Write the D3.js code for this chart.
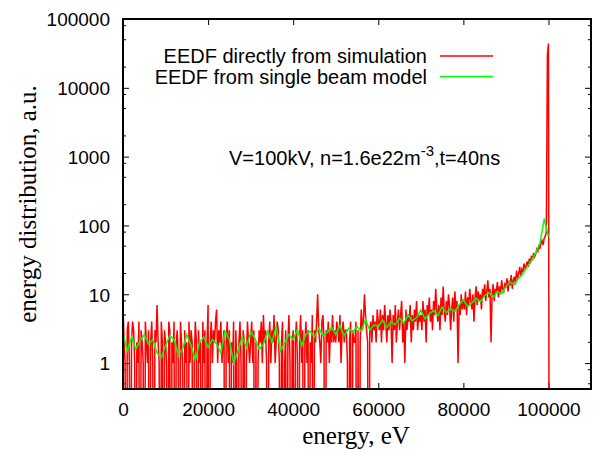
<!DOCTYPE html>
<html>
<head>
<meta charset="utf-8">
<script src="https://cdn.jsdelivr.net/npm/d3@7"></script>
<style>
  html, body { margin: 0; padding: 0; background: #fff; }
  svg { display: block; font-family: "Liberation Sans", Arial, sans-serif; }
</style>
</head>
<body>
<div id="chart"></div>
<script>
// simulation histogram, one value per 250 eV bin starting at 0 eV (0 = empty bin)
const SIM_STEP = 250;
const simCounts = [
  // 0 - 9750
  7,2,1,0,3,4,1,0,2,4,3,1,0,2,1,4,0,3,2,1,0,4,2,1,3,0,2,4,1,0,3,2,7,2,1,0,4,2,0,3,
  // 10000 - 19750
  2,1,0,4,3,0,2,1,4,0,2,3,1,0,4,2,1,0,3,1,2,0,4,1,3,2,0,1,4,2,0,3,1,2,0,4,1,3,0,2,
  // 20000 - 29750
  7,0,2,4,1,3,2,4,6,1,3,2,4,1,2,3,0,2,4,1,3,0,2,1,4,0,3,1,0,2,4,1,0,3,2,0,1,4,2,1,
  // 30000 - 39750
  2,4,1,3,0,2,0,1,3,2,4,1,5,2,3,1,0,2,4,1,3,2,5,1,2,4,3,1,0,2,4,0,1,3,0,2,5,1,0,2,
  // 40000 - 49750
  3,0,2,4,1,0,2,5,1,3,0,2,4,1,3,0,2,1,5,0,3,2,4,10,3,2,1,4,5,2,0,3,2,4,1,3,2,5,2,3,
  // 50000 - 59750
  2,4,3,2,5,1,3,4,2,3,3,1,0,2,4,0,3,2,2,4,0,3,0,2,6,3,4,10,5,3,2,0,3,4,2,5,3,4,2,6,
  // 60000 - 69750
  4,3,6,2,5,3,7,4,2,5,3,6,4,1,5,3,7,2,4,6,3,5,8,2,4,1,6,3,5,4,7,2,5,3,6,4,8,3,5,4,
  // 70000 - 79750
  5,3,8,4,6,2,7,5,9,4,6,3,8,5,12,6,4,7,3,9,5,13,6,4,8,5,10,7,3,6,9,4,11,6,8,1,7,5,10,6,
  // 80000 - 89750
  8,6,11,5,9,7,12,8,6,10,4,9,13,7,11,8,10,6,12,9,14,8,11,16,9,12,2,10,14,8,12,11,15,9,13,10,16,12,11,14,
  // 90000 - 99750
  13,17,11,15,14,19,12,16,18,14,22,17,20,25,18,23,21,28,24,26,30,25,33,28,36,31,40,35,38,45,42,50,47,55,60,52,65,70,80,30000,
  // 100000 - 100250
  44000,0
];

// single beam model, one value per 1000 eV
const MODEL_STEP = 1000;
const modelValues = [
  2.7,1.5,2.4,1.6,2.1,2.6,1.9,2.2,1.4,1.2,
  1.8,2.5,2.2,1.3,1.6,2.6,1.8,1.1,2.0,2.4,
  1.7,2.2,1.9,1.4,2.9,2.2,1.0,1.5,2.4,1.7,
  2.8,2.3,1.6,1.9,2.9,2.0,3.4,1.5,2.0,2.6,
  2.2,3.1,1.8,2.6,2.9,2.4,3.2,2.5,2.8,3.3,
  2.6,3.5,2.5,3.2,2.8,3.4,2.9,4.3,3.0,3.6,
  3.4,4.2,3.3,4.0,3.6,4.5,3.8,5.0,4.1,4.6,
  5.9,4.4,5.2,5.8,4.9,6.5,5.4,6.2,5.6,7.0,
  8.3,6.6,7.5,8.8,7.8,9.6,10.5,9.0,11.0,10.2,
  13,15,14,17,20,25,31,40,55,125,68
];

const xTicks = [0, 20000, 40000, 60000, 80000, 100000];
const yTicks = [1, 10, 100, 1000, 10000, 100000];
const yMinorFactors = [2, 5, 8];
const seriesNames = ['EEDF directly from simulation', 'EEDF from single beam model'];
const seriesColors = ['#ff0000', '#00ff00'];

const WIDTH = 596, HEIGHT = 454;
const MARGIN = { top: 19, right: 5, bottom: 65, left: 123 };
const innerW = WIDTH - MARGIN.left - MARGIN.right;
const innerH = HEIGHT - MARGIN.top - MARGIN.bottom;
const FLOOR = 1e-6; // empty bins drop out of the log range

const svg = d3.select('#chart').append('svg')
  .attr('width', WIDTH)
  .attr('height', HEIGHT);

const g = svg.append('g').attr('transform', `translate(${MARGIN.left},${MARGIN.top})`);

const x = d3.scaleLinear().domain([0, 110000]).range([0, innerW]);
const y = d3.scaleLog().domain([0.42, 100000]).range([innerH, 0]);

svg.append('defs').append('clipPath').attr('id', 'plot-clip')
  .append('rect').attr('width', innerW).attr('height', innerH);

// axes, ticks pointing inward, mirrored on top/right
const styleAxis = (axis, size) => {
  axis.select('.domain').remove();
  axis.selectAll('line').attr('stroke', '#000').attr('stroke-width', 1);
  axis.selectAll('text').attr('fill', '#000').style('font-size', size + 'px')
    .style('font-family', '"Liberation Sans", Arial, sans-serif');
};

const xAxisG = g.append('g').attr('transform', `translate(0,${innerH})`)
  .call(d3.axisBottom(x).tickValues(xTicks).tickSize(-6).tickPadding(14).tickFormat(d3.format('d')));
styleAxis(xAxisG, 19);

const xTopG = g.append('g')
  .call(d3.axisTop(x).tickValues(xTicks).tickSize(-6).tickFormat(''));
styleAxis(xTopG, 19);

const yAxisG = g.append('g')
  .call(d3.axisLeft(y).tickValues(yTicks).tickSize(-6).tickPadding(13).tickFormat(d3.format('d')));
styleAxis(yAxisG, 19);
yAxisG.selectAll('text').attr('dy', '0.36em');

const yRightG = g.append('g').attr('transform', `translate(${innerW},0)`)
  .call(d3.axisRight(y).tickValues(yTicks).tickSize(-6).tickFormat(''));
styleAxis(yRightG, 19);

const yMinor = [];
[0.1, 1, 10, 100, 1000, 10000].forEach(dec => {
  yMinorFactors.forEach(f => {
    const v = dec * f;
    if (v > y.domain()[0] && v < y.domain()[1]) yMinor.push(v);
  });
});

const minorG = g.append('g');
yMinor.forEach(v => {
  minorG.append('line').attr('x1', 0).attr('x2', 3).attr('y1', y(v)).attr('y2', y(v))
    .attr('stroke', '#000');
  minorG.append('line').attr('x1', innerW).attr('x2', innerW - 3).attr('y1', y(v)).attr('y2', y(v))
    .attr('stroke', '#000');
});

// data lines
const simData = simCounts.map((c, i) => ({ e: i * SIM_STEP, v: c > 0 ? c : FLOOR }));
const modelData = modelValues.map((v, i) => ({ e: i * MODEL_STEP, v }));

const line = d3.line().x(d => x(d.e)).y(d => y(d.v));

const dataG = g.append('g').attr('clip-path', 'url(#plot-clip)');
dataG.append('path').datum(simData)
  .attr('d', line)
  .attr('fill', 'none')
  .attr('stroke', seriesColors[0])
  .attr('stroke-width', 1.5);

dataG.append('path').datum(modelData)
  .attr('d', line)
  .attr('fill', 'none')
  .attr('stroke', seriesColors[1])
  .attr('stroke-width', 1.5);

// border
g.append('rect').attr('width', innerW).attr('height', innerH)
  .attr('fill', 'none').attr('stroke', '#000').attr('stroke-width', 2);

// legend
const legendG = svg.append('g');
seriesNames.forEach((name, i) => {
  const yy = 56 + i * 20.5;
  legendG.append('text')
    .attr('x', 427).attr('y', yy + 7)
    .attr('text-anchor', 'end')
    .style('font-size', '20px')
    .attr('fill', '#000')
    .text(name);
  legendG.append('line')
    .attr('x1', 440).attr('x2', 493)
    .attr('y1', yy).attr('y2', yy)
    .attr('stroke', seriesColors[i])
    .attr('stroke-width', 1.5);
});

// annotation
const note = svg.append('text')
  .attr('x', 229).attr('y', 165)
  .style('font-size', '20px')
  .attr('fill', '#000');
note.append('tspan').text('V=100kV, n=1.6e22m');
note.append('tspan').attr('dy', -9).style('font-size', '15px').text('-3');
note.append('tspan').attr('dy', 9).text(',t=40ns');

// axis titles
svg.append('text')
  .attr('x', 356).attr('y', 444)
  .attr('text-anchor', 'middle')
  .style('font-family', '"Liberation Serif", "Times New Roman", serif')
  .style('font-size', '25px')
  .text('energy, eV');

svg.append('text')
  .attr('transform', 'translate(36,204) rotate(-90)')
  .attr('text-anchor', 'middle')
  .style('font-family', '"Liberation Serif", "Times New Roman", serif')
  .style('font-size', '25px')
  .text('energy distribution, a.u.');
</script>
</body>
</html>
